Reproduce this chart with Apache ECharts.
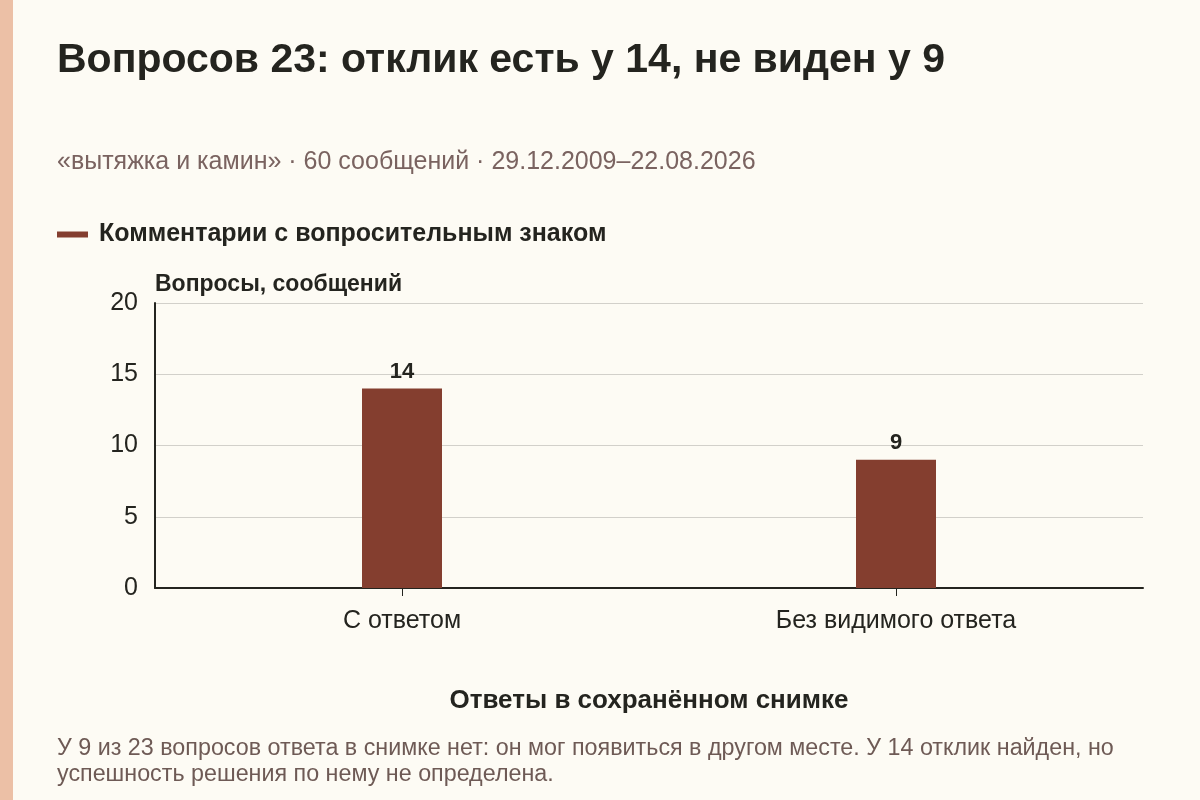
<!DOCTYPE html>
<html>
<head>
<meta charset="utf-8">
<script src="https://cdn.jsdelivr.net/npm/echarts@6/dist/echarts.min.js"></script>
<style>
  html, body { margin: 0; padding: 0; background: #fdfbf4; }
  #chart { width: 1200px; height: 800px; }
</style>
</head>
<body>
<div id="chart"></div>
<script>
var categories = ['С ответом', 'Без видимого ответа'];
var questionCounts = [14, 9];
var yTicks = [0, 5, 10, 15, 20];

var font = 'Liberation Sans, Arial, sans-serif';
var barColor = '#843e2f';
var ink = '#24241f';

var chart = echarts.init(document.getElementById('chart'));

var option = {
  backgroundColor: '#fdfbf4',
  textStyle: { fontFamily: font },
  title: [
    {
      text: 'Вопросов 23: отклик есть у 14, не виден у 9',
      left: 52,
      top: 35,
      textStyle: { fontFamily: font, fontSize: 41, fontWeight: 'bold', color: ink }
    },
    {
      text: '«вытяжка и камин» · 60 сообщений · 29.12.2009–22.08.2026',
      left: 52,
      top: 145,
      textStyle: { fontFamily: font, fontSize: 25, fontWeight: 'normal', color: '#7a6360' }
    }
  ],
  legend: {
    left: 52,
    top: 217,
    icon: 'rect',
    itemWidth: 31,
    itemHeight: 6,
    textStyle: { fontFamily: font, fontSize: 25, fontWeight: 'bold', color: ink, padding: [0, 0, 0, 6] },
    data: ['Комментарии с вопросительным знаком']
  },
  grid: { left: 155, right: 57, top: 303, bottom: 212, containLabel: false },
  xAxis: {
    type: 'category',
    data: categories,
    name: 'Ответы в сохранённом снимке',
    nameLocation: 'middle',
    nameGap: 100,
    nameTextStyle: { fontFamily: font, fontSize: 26, fontWeight: 'bold', color: ink },
    axisLine: { lineStyle: { color: ink, width: 2 } },
    axisTick: { show: true, alignWithLabel: true, length: 8, lineStyle: { color: ink, width: 1 } },
    axisLabel: { fontFamily: font, fontSize: 25, color: ink, margin: 21 }
  },
  yAxis: {
    type: 'value',
    min: yTicks[0],
    max: yTicks[yTicks.length - 1],
    interval: yTicks[1] - yTicks[0],
    name: 'Вопросы, сообщений',
    nameLocation: 'end',
    nameGap: 18,
    nameTextStyle: { fontFamily: font, fontSize: 23, fontWeight: 'bold', color: ink, align: 'left', verticalAlign: 'middle' },
    axisLine: { show: true, lineStyle: { color: ink, width: 2 } },
    axisTick: { show: false },
    axisLabel: { fontFamily: font, fontSize: 25, color: ink, margin: 17 },
    splitLine: { lineStyle: { color: '#d2d0ca', width: 1 } }
  },
  series: [
    {
      name: 'Комментарии с вопросительным знаком',
      type: 'bar',
      data: questionCounts,
      barWidth: 80,
      itemStyle: { color: barColor },
      label: {
        show: true,
        position: 'top',
        distance: 6,
        fontFamily: font,
        fontSize: 22,
        fontWeight: 'bold',
        color: ink
      }
    }
  ],
  graphic: [
    {
      type: 'rect',
      left: 0,
      top: 0,
      shape: { width: 13, height: 800 },
      style: { fill: '#ecc0a6' }
    },
    {
      type: 'text',
      left: 57,
      top: 736,
      style: {
        text: 'У 9 из 23 вопросов ответа в снимке нет: он мог появиться в другом месте. У 14 отклик найден, но\nуспешность решения по нему не определена.',
        font: '23.3px ' + font,
        fill: '#6e5a55',
        lineHeight: 26
      }
    }
  ]
};

chart.setOption(option);
</script>
</body>
</html>
